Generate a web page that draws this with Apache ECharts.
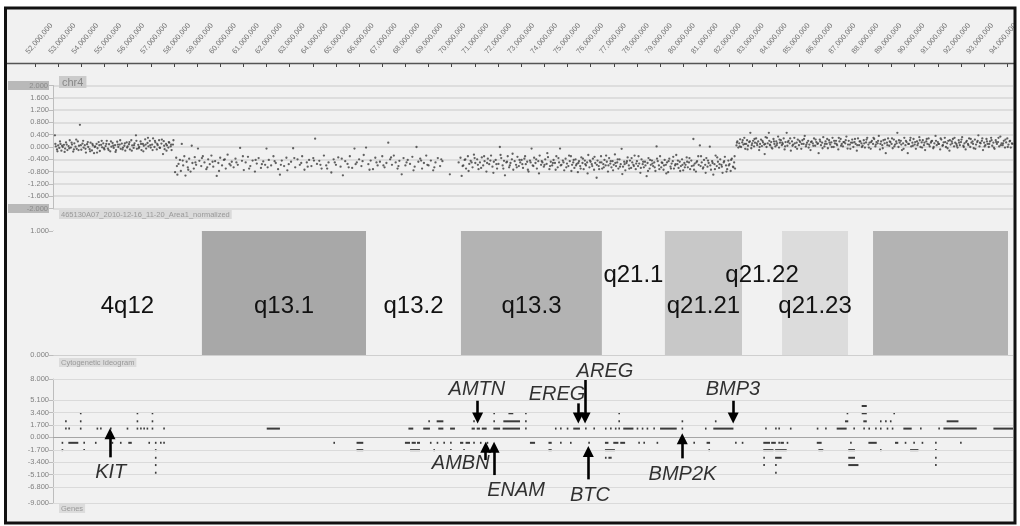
<!DOCTYPE html>
<html><head><meta charset="utf-8">
<script src="https://cdn.jsdelivr.net/npm/echarts@6/dist/echarts.min.js"></script>
<style>html,body{margin:0;padding:0;background:#fff}#c{width:1020px;height:526px}</style>
</head><body><div id="c"></div>
<script>
// ---------- DATA (positions in Mb on chr4) ----------
const rulerMinMb = 52, rulerMaxMb = 94;
const viewMinMb = 52.7775, viewMaxMb = 94.2462;

// normalized log-ratio points [Mb, value]
const cnvSeg1 = [[52.86,0.38],[52.9,0.02],[52.95,-0.08],[53.0,0.05],[53.05,-0.03],[53.1,0.1],[53.14,-0.12],[53.2,0.0],[53.25,0.07],[53.3,-0.05],[53.34,0.15],[53.4,-0.1],[53.45,0.03],[53.5,0.22],[53.55,-0.02],[53.6,0.08],[53.65,-0.15],[53.7,0.12],[53.75,0.01],[53.8,-0.06],[53.85,0.18],[53.94,0.72],[53.9,0.04],[54.0,-0.09],[54.05,0.11],[54.1,-0.02],[54.15,0.06],[54.2,-0.18],[54.25,0.09],[54.3,0.0],[54.36,-0.07],[54.4,0.14],[54.46,-0.11],[54.5,0.05],[54.55,-0.2],[54.6,0.02],[54.66,0.1],[54.7,-0.04],[54.75,0.16],[54.8,-0.13],[54.86,0.07],[54.9,-0.01],[54.95,0.12],[55.0,-0.08],[55.05,0.03],[55.1,0.2],[55.15,-0.05],[55.2,0.09],[55.25,-0.14],[55.3,0.01],[55.35,0.13],[55.4,-0.03],[55.46,0.06],[55.5,-0.1],[55.55,0.17],[55.6,0.0],[55.66,0.08],[55.7,-0.06],[55.75,0.11],[55.8,-0.02],[55.86,0.04],[55.9,-0.12],[55.96,0.15],[56.0,0.02],[56.06,0.09],[56.1,-0.08],[56.16,0.22],[56.2,0.05],[56.26,-0.03],[56.3,0.12],[56.36,0.38],[56.4,-0.06],[56.46,0.07],[56.5,0.0],[56.56,0.18],[56.6,-0.1],[56.66,0.1],[56.7,0.04],[56.76,0.25],[56.8,-0.05],[56.86,0.13],[56.9,0.02],[56.96,0.2],[57.0,-0.02],[57.06,0.08],[57.1,0.28],[57.16,0.0],[57.2,0.15],[57.26,-0.08],[57.3,0.06],[57.36,0.22],[57.4,-0.03],[57.46,0.11],[57.53,-0.23],[57.56,0.19],[57.6,-0.07],[57.66,0.1],[57.7,0.05],[57.76,-0.02],[57.8,0.14],[57.86,0.02],[57.9,-0.1],[57.96,0.08]];
const cnvSeg1b = [[52.88,0.1],[52.97,-0.14],[53.08,0.18],[53.17,0.04],[53.28,-0.16],[53.37,0.08],[53.48,-0.04],[53.58,0.14],[53.68,-0.08],[53.78,0.24],[53.88,-0.1],[53.98,0.06],[54.08,0.2],[54.18,-0.06],[54.28,0.16],[54.38,-0.14],[54.48,0.1],[54.58,0.0],[54.68,-0.18],[54.78,0.06],[54.88,0.2],[54.98,-0.04],[55.08,0.1],[55.18,-0.1],[55.28,0.18],[55.38,0.04],[55.48,-0.16],[55.58,0.08],[55.68,0.22],[55.78,-0.08],[55.88,0.12],[55.98,-0.02],[56.08,0.16],[56.18,-0.12],[56.28,0.06],[56.38,0.2],[56.48,-0.04],[56.58,0.1],[56.68,-0.14],[56.78,0.08],[56.88,0.3],[56.98,0.06],[57.08,-0.1],[57.18,0.2],[57.28,0.1],[57.38,-0.02],[57.48,0.24],[57.58,0.04],[57.68,-0.12],[57.78,0.16],[57.88,0.08],[57.98,0.22]];
const cnvSeg2a = [[58.05,-0.82],[58.1,-0.35],[58.15,-0.9],[58.2,-0.55],[58.26,-0.42],[58.3,-0.78],[58.34,0.1],[58.4,-0.6],[58.45,-0.3],[58.5,-0.93],[58.55,-0.48],[58.6,-0.66],[58.66,-0.38],[58.72,-0.8],[58.77,0.04],[58.8,-0.52],[58.86,-0.7],[58.9,-0.33],[58.96,-0.58],[59.04,-0.05],[59.1,-0.45],[59.18,-0.62],[59.25,-0.3],[59.32,-0.5],[59.4,-0.72],[59.48,-0.4],[59.55,-0.56],[59.62,-0.28],[59.7,-0.64],[59.78,-0.46],[59.85,-0.94],[59.92,-0.52],[60.0,-0.35],[60.08,-0.6],[60.16,-0.42],[60.24,-0.7],[60.32,-0.25],[60.4,-0.55],[60.5,-0.48],[60.58,-0.66],[60.66,-0.38],[60.76,-0.58],[60.86,-0.03],[60.94,-0.45],[61.02,-0.75],[61.1,-0.5],[61.2,-0.32],[61.3,-0.62],[61.4,-0.44],[61.5,-0.8],[61.58,-0.54],[61.66,-0.36],[61.76,-0.68],[61.86,-0.47],[61.94,-0.58],[62.0,-0.05],[62.1,-0.42],[62.2,-0.6],[62.3,-0.3],[62.4,-0.52],[62.5,-0.72],[62.58,-0.9],[62.66,-0.44],[62.76,-0.62],[62.86,-0.35],[62.96,-0.56],[63.06,-0.48],[63.15,-0.04],[63.24,-0.66],[63.34,-0.4],[63.44,-0.58],[63.54,-0.3],[63.64,-0.74],[63.74,-0.5],[63.84,-0.42],[63.94,-0.62],[64.02,-0.36],[64.1,0.27],[64.18,-0.55],[64.28,-0.45],[64.38,-0.7],[64.48,-0.28],[64.58,-0.6],[64.68,-0.5],[64.8,-0.83],[64.9,-0.4],[65.0,-0.58],[65.1,-0.34],[65.2,-0.64],[65.3,-0.92],[65.4,-0.46],[65.5,-0.55],[65.6,-0.3],[65.7,-0.68],[65.8,-0.05],[65.9,-0.5],[66.0,-0.4],[66.1,-0.62],[66.2,-0.26],[66.3,-0.02],[66.4,-0.56],[66.5,-0.44],[66.6,-0.72],[66.7,-0.35],[66.8,-0.6],[66.9,-0.48],[67.0,-0.3],[67.1,-0.66],[67.18,-0.52],[67.26,0.14],[67.34,-0.4],[67.42,-0.58],[67.5,-0.28],[67.58,-0.5],[67.66,-0.7],[67.74,-0.45],[67.84,-0.89],[67.92,-0.36],[68.0,-0.6],[68.1,-0.42],[68.2,-0.55],[68.3,-0.32],[68.4,-0.64],[68.48,0.0],[68.56,-0.48],[68.64,-0.38],[68.72,-0.7],[68.8,-0.52],[68.9,-0.28],[69.0,-0.6],[69.1,-0.44],[69.2,-0.76],[69.3,-0.5],[69.4,-0.36],[69.5,-0.62],[69.6,-0.46],[69.92,-0.89],[70.3,-0.5]];
const cnvSeg2aExtra = [[58.13,-0.62],[58.38,-0.44],[58.62,-0.74],[58.93,-0.5],[59.21,-0.36],[59.44,-0.66],[59.67,-0.48],[59.95,-0.78],[60.2,-0.4],[60.45,-0.6],[60.7,-0.5],[60.98,-0.3],[61.25,-0.7],[61.53,-0.42],[61.8,-0.56],[62.05,-0.66],[62.35,-0.46],[62.62,-0.58],[62.9,-0.76],[63.2,-0.36],[63.5,-0.52],[63.78,-0.64],[64.05,-0.44],[64.33,-0.58],[64.62,-0.7],[64.95,-0.5],[65.25,-0.38],[65.55,-0.66],[65.85,-0.56],[66.15,-0.46],[66.45,-0.74],[66.75,-0.5],[67.05,-0.6],[67.38,-0.34],[67.7,-0.62],[68.05,-0.5],[68.35,-0.76],[68.68,-0.44],[68.95,-0.58],[69.25,-0.66],[69.55,-0.4]];
const cnvSeg2b = [[70.38,-0.35],[70.43,-0.94],[70.5,-0.6],[70.56,-0.42],[70.62,-0.7],[70.7,-0.3],[70.76,-0.55],[70.82,-0.45],[70.9,-0.66],[70.96,-0.25],[71.02,-0.52],[71.1,-0.4],[71.16,-0.72],[71.22,-0.5],[71.3,-0.34],[71.36,-0.6],[71.42,-0.46],[71.5,-0.8],[71.56,-0.38],[71.62,-0.56],[71.7,-0.28],[71.76,-0.64],[71.82,-0.48],[71.9,-0.42],[71.96,-0.7],[72.02,-0.55],[72.08,0.0],[72.14,-0.36],[72.2,-0.6],[72.26,-0.45],[72.3,-0.92],[72.36,-0.5],[72.42,-0.3],[72.48,-0.66],[72.54,-0.52],[72.6,-0.4],[72.66,-0.74],[72.72,-0.46],[72.78,-0.58],[72.84,-0.32],[72.9,-0.62],[72.96,-0.5],[73.02,-0.42],[73.08,-0.68],[73.14,-0.38],[73.2,-0.56],[73.26,-0.48],[73.32,-0.8],[73.38,-0.44],[73.45,-0.05],[73.5,-0.6],[73.56,-0.35],[73.62,-0.52],[73.68,-0.7],[73.74,-0.46],[73.8,-0.28],[73.86,-0.58],[73.92,-0.5],[73.98,-0.64],[74.04,-0.4],[74.1,-0.55],[74.16,-0.33],[74.22,-0.72],[74.28,-0.48],[74.34,-0.6],[74.4,-0.42],[74.46,-0.52],[74.52,-0.3],[74.58,-0.66],[74.64,-0.5],[74.68,-0.05],[74.74,-0.58],[74.8,-0.44],[74.86,-0.76],[74.92,-0.38],[74.98,-0.54],[75.04,-0.62],[75.1,-0.46],[75.15,-0.3],[75.2,-0.58],[75.25,-0.5],[75.3,-0.68],[75.35,-0.4],[75.4,-0.55],[75.45,-0.82],[75.5,-0.46],[75.55,-0.62],[75.6,-0.34],[75.65,-0.52],[75.7,-0.72],[75.75,-0.44],[75.8,-0.6],[75.85,-0.5],[75.9,-0.26],[75.95,-0.66],[76.0,-0.48],[76.05,-0.56],[76.1,-0.38],[76.15,-0.74],[76.2,-0.52],[76.26,-1.0],[76.3,-0.44],[76.35,-0.62],[76.4,-0.5],[76.45,-0.3],[76.5,-0.7],[76.55,-0.56],[76.6,-0.42],[76.65,-0.6],[76.7,-0.48],[76.75,-0.8],[76.8,-0.36],[76.85,-0.54],[76.9,-0.66],[76.95,-0.46],[77.0,-0.58],[77.05,-0.24],[77.1,-0.62],[77.15,-0.5],[77.2,-0.7],[77.25,-0.4],[77.3,-0.56],[77.34,-0.06],[77.4,-0.64],[77.45,-0.48],[77.5,-0.76],[77.55,-0.52],[77.6,-0.34],[77.65,-0.6],[77.7,-0.44],[77.75,-0.68],[77.8,-0.5],[77.85,-0.58],[77.9,-0.28],[77.95,-0.72],[78.0,-0.46],[78.05,-0.62],[78.1,-0.54],[78.15,-0.84],[78.2,-0.4],[78.25,-0.56],[78.3,-0.66],[78.35,-0.48],[78.42,-0.95],[78.46,-0.52],[78.5,-0.36],[78.55,-0.7],[78.6,-0.58],[78.65,-0.44],[78.7,-0.62],[78.75,-0.5],[78.8,-0.78],[78.85,0.02],[78.9,-0.46],[78.95,-0.6],[79.0,-0.3],[79.05,-0.66],[79.1,-0.52],[79.15,-0.74],[79.2,-0.42],[79.25,-0.58],[79.3,-0.5],[79.35,-0.82],[79.4,-0.38],[79.45,-0.64],[79.5,-0.54],[79.55,-0.46],[79.6,-0.7],[79.65,-0.6],[79.7,-0.26],[79.75,-0.56],[79.8,-0.68],[79.85,-0.48],[79.9,-0.62],[79.95,-0.4],[80.0,-0.76],[80.05,-0.52],[80.1,-0.58],[80.15,-0.34],[80.2,-0.66],[80.25,-0.5],[80.3,-0.72],[80.35,-0.44],[80.44,0.26],[80.45,-0.6],[80.5,-0.54],[80.55,-0.8],[80.6,-0.46],[80.65,-0.3],[80.72,0.05],[80.75,-0.62],[80.8,-0.5],[80.85,-0.7],[80.9,-0.42],[80.95,-0.58],[81.0,-0.36],[81.05,-0.64],[81.1,-0.52],[81.15,0.01],[81.2,-0.74],[81.25,-0.46],[81.3,-0.9],[81.35,-0.56],[81.4,-0.28],[81.45,-0.62],[81.5,-0.48],[81.55,-0.68],[81.6,-0.4],[81.65,-0.58],[81.7,-0.84],[81.75,-0.5],[81.8,-0.32],[81.85,-0.6],[81.9,-0.72],[81.95,-0.44],[82.0,-0.56],[82.05,-0.78],[82.1,-0.38],[82.15,-0.64],[82.2,-0.5],[82.24,-0.7]];
const cnvSeg2bExtra = [[70.47,-0.62],[70.59,-0.4],[70.73,-0.78],[70.86,-0.5],[70.99,-0.36],[71.13,-0.58],[71.27,-0.68],[71.4,-0.3],[71.53,-0.52],[71.67,-0.44],[71.8,-0.84],[71.93,-0.56],[72.11,-0.26],[72.23,-0.7],[72.39,-0.48],[72.51,-0.6],[72.63,-0.22],[72.81,-0.66],[72.93,-0.42],[73.05,-0.56],[73.17,-0.3],[73.29,-0.74],[73.41,-0.5],[73.53,-0.62],[73.65,-0.4],[73.77,-0.86],[73.89,-0.46],[74.01,-0.58],[74.13,-0.2],[74.25,-0.62],[74.37,-0.52],[74.49,-0.74],[74.61,-0.36],[74.71,-0.6],[74.83,-0.5],[74.95,-0.66],[75.07,-0.28],[75.17,-0.78],[75.27,-0.42],[75.37,-0.6],[75.47,-0.52],[75.57,-0.7],[75.67,-0.38],[75.77,-0.56],[75.87,-0.86],[75.97,-0.44],[76.07,-0.62],[76.17,-0.32],[76.27,-0.58],[76.37,-0.72],[76.47,-0.5],[76.57,-0.66],[76.67,-0.28],[76.77,-0.6],[76.87,-0.46],[76.97,-0.76],[77.07,-0.52],[77.17,-0.4],[77.27,-0.64],[77.37,-0.88],[77.47,-0.56],[77.57,-0.46],[77.67,-0.7],[77.77,-0.36],[77.87,-0.62],[77.97,-0.54],[78.07,-0.3],[78.17,-0.68],[78.27,-0.48],[78.37,-0.6],[78.48,-0.78],[78.57,-0.42],[78.67,-0.54],[78.77,-0.66],[78.87,-0.38],[78.97,-0.72],[79.07,-0.5],[79.17,-0.6],[79.27,-0.86],[79.37,-0.46],[79.47,-0.7],[79.57,-0.32],[79.67,-0.56],[79.77,-0.44],[79.87,-0.78],[79.97,-0.58],[80.07,-0.66],[80.17,-0.48],[80.27,-0.36],[80.37,-0.62],[80.47,-0.74],[80.57,-0.5],[80.67,-0.58],[80.77,-0.3],[80.87,-0.66],[80.97,-0.84],[81.07,-0.44],[81.17,-0.6],[81.27,-0.52],[81.37,-0.72],[81.47,-0.34],[81.57,-0.56],[81.67,-0.64],[81.77,-0.46],[81.87,-0.8],[81.97,-0.6],[82.07,-0.42],[82.17,-0.66],[82.22,-0.3]];
const cnvSeg3 = [[82.3,0.05],[82.34,0.18],[82.38,-0.02],[82.42,0.12],[82.46,0.25],[82.5,0.0],[82.55,0.15],[82.6,0.08],[82.64,0.3],[82.68,-0.06],[82.72,0.1],[82.76,0.22],[82.8,0.04],[82.85,0.16],[82.9,0.46],[82.94,-0.04],[82.98,0.12],[83.02,0.2],[83.06,0.02],[83.1,0.14],[83.15,0.28],[83.2,0.06],[83.24,0.18],[83.28,-0.1],[83.32,0.1],[83.36,0.24],[83.4,0.03],[83.45,0.15],[83.5,0.08],[83.52,-0.23],[83.56,0.32],[83.6,0.0],[83.65,0.12],[83.7,0.46],[83.72,0.2],[83.76,0.05],[83.8,0.16],[83.85,-0.05],[83.9,0.26],[83.94,0.1],[83.98,0.02],[84.02,0.18],[84.06,0.12],[84.1,0.34],[84.14,-0.02],[84.18,0.14],[84.22,0.22],[84.26,0.06],[84.3,0.1],[84.34,0.28],[84.38,-0.08],[84.42,0.16],[84.47,0.46],[84.5,0.04],[84.55,0.2],[84.6,0.12],[84.65,-0.12],[84.7,0.18],[84.75,0.08],[84.8,0.3],[84.85,0.0],[84.9,0.14],[84.95,0.24],[85.0,0.06],[85.05,0.16],[85.1,-0.06],[85.15,0.22],[85.2,0.1],[85.25,0.36],[85.3,0.02],[85.35,0.14],[85.4,0.2],[85.45,0.08],[85.5,-0.1],[85.55,0.18],[85.6,0.12],[85.65,0.28],[85.7,0.04],[85.75,0.16],[85.8,0.1],[85.85,-0.2],[85.9,0.24],[85.95,0.06],[86.0,0.14],[86.05,0.32],[86.1,0.02],[86.15,0.18],[86.2,0.1],[86.25,-0.04],[86.3,0.22],[86.35,0.08],[86.4,0.15],[86.45,0.3],[86.5,0.0],[86.55,0.12],[86.6,0.2],[86.65,0.06],[86.7,-0.08],[86.75,0.18],[86.8,0.26],[86.85,0.1],[86.9,0.02],[86.95,0.16],[87.0,0.12],[87.05,0.34],[87.1,-0.05],[87.15,0.2],[87.2,0.08],[87.25,0.14],[87.3,0.24],[87.35,0.0],[87.4,0.16],[87.45,0.1],[87.5,-0.12],[87.55,0.28],[87.6,0.06],[87.65,0.18],[87.7,0.12],[87.75,0.04],[87.8,0.22],[87.85,-0.02],[87.9,0.15],[87.95,0.3],[88.0,0.08],[88.05,0.14],[88.1,-0.06],[88.15,0.2],[88.2,0.1],[88.25,0.26],[88.3,0.02],[88.35,0.16],[88.4,0.12],[88.45,0.36],[88.5,-0.08],[88.55,0.18],[88.6,0.06],[88.65,0.22],[88.7,0.12],[88.75,-0.2],[88.8,0.14],[88.85,0.28],[88.9,0.04],[88.95,0.16],[89.0,0.1],[89.05,-0.04],[89.1,0.24],[89.15,0.08],[89.2,0.18],[89.25,0.46],[89.3,0.0],[89.35,0.14],[89.4,0.2],[89.45,-0.1],[89.5,0.12],[89.55,0.3],[89.6,0.06],[89.65,0.16],[89.7,-0.2],[89.75,0.1],[89.8,0.22],[89.85,0.02],[89.9,0.14],[89.95,0.26],[90.0,0.08],[90.05,-0.06],[90.1,0.18],[90.15,0.12],[90.2,0.32],[90.25,0.0],[90.3,0.15],[90.35,0.22],[90.4,0.06],[90.45,-0.1],[90.5,0.18],[90.55,0.1],[90.6,0.28],[90.65,0.02],[90.7,0.14],[90.75,0.2],[90.8,-0.04],[90.85,0.12],[90.9,0.36],[90.95,0.06],[91.0,0.16],[91.05,0.1],[91.1,-0.08],[91.15,0.24],[91.2,0.04],[91.25,0.15],[91.3,0.3],[91.35,0.0],[91.4,0.12],[91.45,0.2],[91.5,-0.12],[91.55,0.08],[91.6,0.18],[91.65,0.26],[91.7,0.02],[91.75,0.14],[91.8,0.1],[91.85,-0.02],[91.9,0.22],[91.95,0.06],[92.0,0.16],[92.05,0.32],[92.1,0.04],[92.15,0.12],[92.2,-0.08],[92.25,0.2],[92.3,0.1],[92.35,0.28],[92.4,0.0],[92.45,0.14],[92.5,0.18],[92.55,-0.04],[92.6,0.24],[92.65,0.08],[92.7,0.16],[92.75,0.38],[92.8,0.02],[92.85,0.12],[92.9,0.2],[92.95,-0.1],[93.0,0.14],[93.05,0.06],[93.1,0.26],[93.15,0.1],[93.2,0.0],[93.25,0.18],[93.3,0.3],[93.35,0.04],[93.4,0.14],[93.45,-0.06],[93.5,0.22],[93.55,0.1],[93.6,0.16],[93.65,0.02],[93.7,0.34],[93.75,0.12],[93.8,0.06],[93.85,0.2],[93.9,-0.02],[93.95,0.15],[94.0,0.28],[94.05,0.08],[94.1,0.18],[94.15,-0.02],[94.2,0.12]];
const cnvSeg3Extra = [[82.32,0.14],[82.44,0.02],[82.57,0.22],[82.66,0.1],[82.78,-0.08],[82.88,0.18],[82.96,0.06],[83.08,0.26],[83.18,0.12],[83.3,0.0],[83.42,0.2],[83.54,0.1],[83.62,0.3],[83.74,0.08],[83.82,-0.02],[83.92,0.18],[84.04,0.06],[84.16,0.24],[84.28,0.14],[84.4,0.02],[84.52,0.16],[84.62,0.28],[84.72,0.04],[84.82,0.12],[84.92,-0.06],[85.02,0.2],[85.12,0.1],[85.22,0.26],[85.32,0.08],[85.42,-0.02],[85.52,0.16],[85.62,0.04],[85.72,0.24],[85.82,0.12],[85.92,0.18],[86.02,-0.04],[86.12,0.1],[86.22,0.26],[86.32,0.14],[86.42,0.0],[86.52,0.2],[86.62,0.1],[86.72,0.3],[86.82,0.04],[86.92,0.16],[87.02,0.22],[87.12,0.08],[87.22,-0.06],[87.32,0.14],[87.42,0.26],[87.52,0.06],[87.62,0.18],[87.72,0.0],[87.82,0.12],[87.92,0.24],[88.02,-0.02],[88.12,0.16],[88.22,0.3],[88.32,0.08],[88.42,0.2],[88.52,0.1],[88.62,-0.04],[88.72,0.24],[88.82,0.06],[88.92,0.18],[89.02,0.28],[89.12,0.02],[89.22,0.12],[89.32,0.22],[89.42,0.08],[89.52,-0.06],[89.62,0.2],[89.72,0.1],[89.82,0.3],[89.92,0.04],[90.02,0.16],[90.12,0.06],[90.22,0.22],[90.32,-0.02],[90.42,0.14],[90.52,0.26],[90.62,0.08],[90.72,0.18],[90.82,0.0],[90.92,0.2],[91.02,0.1],[91.12,0.28],[91.22,0.06],[91.32,0.16],[91.42,-0.04],[91.52,0.22],[91.62,0.12],[91.72,0.3],[91.82,0.04],[91.92,0.14],[92.02,0.24],[92.12,0.0],[92.22,0.16],[92.32,0.06],[92.42,0.26],[92.52,0.1],[92.62,-0.06],[92.72,0.2],[92.82,0.14],[92.92,0.28],[93.02,0.02],[93.12,0.18],[93.22,0.1],[93.32,0.22],[93.42,-0.02],[93.52,0.16],[93.62,0.3],[93.72,0.06],[93.82,0.12],[93.92,0.24],[94.02,0.0],[94.12,0.2],[94.22,0.1]];

// cytogenetic bands
const bandStarts = [52.0, 59.21, 66.30, 70.40, 76.49, 79.21, 82.54, 84.27, 87.12, 88.20, 94.03];
const bandEnds   = [59.21, 66.30, 70.40, 76.49, 79.21, 82.54, 84.27, 87.12, 88.20, 94.03, 95.5];
const bandStains = ['gneg','gpos100','gneg','gpos75','gneg','gpos50','gneg','gpos25','gneg','gpos75','gneg'];
const bandNames  = ['4q12','q13.1','q13.2','q13.3','q21.1','q21.21','q21.22','q21.23','','',''];

// gene track: row value and genes in that row ([start,end] or single Mb)
const geneTicks = [8, 5.1, 3.4, 1.7, 0, -1.7, -3.4, -5.1, -6.8, -9];
const geneRowPos = [4.3, 3.3, 2.2, 1.2, -0.75, -1.75, -2.8, -3.8, -4.85];
const genesRowA = [[87.71,87.93]];
const genesRowB = [53.94,56.39,57.04,71.80,[72.45,72.66],73.17,77.20,87.06,[87.71,87.93],89.08];
const genesRowC = [53.30,53.94,56.39,57.04,68.99,[69.35,69.64],70.93,71.80,[72.23,72.95],73.17,77.20,79.93,81.37,[86.99,87.13],[87.78,87.93],88.50,88.72,88.93,[91.38,91.89]];
const genesRowD = [53.30,53.44,53.94,54.66,54.81,55.24,55.96,56.39,56.54,56.68,56.82,57.04,57.54,[62.01,62.58],[68.13,68.34],[68.77,69.06],[69.42,69.64],[69.93,70.14],[70.86,71.0],[71.08,71.22],[71.3,71.51],[71.80,72.09],[72.2,72.95],73.17,74.46,74.68,74.97,[75.25,75.54],75.76,76.12,76.62,76.84,77.05,77.20,[77.41,77.85],77.99,78.21,78.42,78.71,[79.00,79.72],79.93,80.94,[81.30,82.17],83.54,83.97,84.11,84.61,85.77,86.13,[86.63,87.06],87.35,87.78,88.00,88.29,88.50,88.79,89.01,[89.51,89.87],90.23,91.02,[91.24,92.68],[93.40,94.40]];
const genesRowE = [53.15,[53.44,53.87],54.09,54.59,55.31,55.67,[56.03,56.18],56.90,57.18,57.40,57.54,64.89,[65.89,66.18],[67.98,68.2],[68.27,68.45],[68.5,68.63],69.06,69.35,69.64,69.93,[70.36,70.5],[70.6,70.79],70.93,71.22,71.51,[73.38,73.60],[74.18,74.32],74.68,75.11,75.90,[76.62,76.77],[76.98,77.2],[77.28,77.49],78.06,78.28,78.85,80.44,[81.01,81.16],82.24,82.53,[83.46,83.75],[83.8,84.0],84.11,[84.2,84.35],84.47,[85.77,85.98],87.21,[88.00,88.36],[89.15,89.29],89.57,89.94,90.30,90.88,91.96];
const genesRowF = [53.15,54.09,57.18,[65.89,66.18],[68.20,68.63],69.21,69.93,70.50,[74.18,74.32],[76.62,77.05],81.09,[83.46,83.9],[83.97,84.47],[85.84,86.05],[87.13,87.42],88.50,[89.80,90.16],90.88];
const genesRowG = [57.18,76.62,76.77,76.84,83.46,[83.97,84.25],[87.13,87.42],90.88];
const genesRowH = [57.18,83.46,83.97,[87.13,87.57],90.88];
const genesRowI = [57.18,83.97];

// annotated genes
const annoNames    = ['KIT','AMTN','AMBN','ENAM','EREG','AREG','BTC','BMP2K','BMP3'];
const annoGeneMb   = [55.24, 71.12, 71.47, 71.83, 75.47, 75.76, 75.90, 79.96, 82.16];
const annoArrowFrom= [-2.74, 5.02, -3.11, -5.17, 4.66, 7.86, -5.76, -2.88, 5.02];
const annoArrowTip = [1.23, 1.92, -0.6, -0.6, 1.92, 1.92, -1.19, 0.55, 1.92];
const annoTextMb   = [55.27, 71.09, 70.39, 72.78, 74.55, 76.62, 75.97, 79.97, 82.15];
const annoTextVal  = [-4.83, 6.56, -3.6, -7.32, 5.94, 9.0, -7.92, -5.03, 6.56];

// ---------- STYLE ----------
const FONT = '"Liberation Sans", Arial, Helvetica, sans-serif';
const stainColors = {gneg:'#f1f1f1', gpos25:'#dcdcdc', gpos50:'#c8c8c8', gpos75:'#b3b3b3', gpos100:'#a8a8a8'};
const axisGrey = '#bdbdbd', labelGrey = '#808080';

const geneRows = [genesRowA,genesRowB,genesRowC,genesRowD,genesRowE,genesRowF,genesRowG,genesRowH,genesRowI];
const geneData = [];
geneRows.forEach((row, r) => row.forEach(g => {
  const s = Array.isArray(g) ? g[0] : g, e = Array.isArray(g) ? g[1] : g;
  geneData.push([s, e, geneRowPos[r]]);
}));

const measureCtx = document.createElement('canvas').getContext('2d');
measureCtx.font = '24px ' + FONT;
let raisedCache = null;
function getRaised(api, cs) {
  if (raisedCache) return raisedCache;
  const res = []; let lowerLeft = Infinity;
  for (let i = bandNames.length - 1; i >= 0; i--) {
    res[i] = false;
    if (!bandNames[i]) continue;
    const a = Math.max(api.coord([bandStarts[i], 0])[0], cs.x);
    const b = Math.min(api.coord([bandEnds[i], 0])[0], cs.x + cs.width);
    const cx = (a + b) / 2, w = measureCtx.measureText(bandNames[i]).width;
    if (cx + w / 2 + 6 > lowerLeft) res[i] = true; else lowerLeft = cx - w / 2;
  }
  raisedCache = res; return res;
}
function renderBand(params, api) {
  const i = api.value(2);
  const cs = params.coordSys;
  const p0 = api.coord([api.value(0), 1]), p1 = api.coord([api.value(1), 0]);
  const r = echarts.graphic.clipRectByRect(
    {x: p0[0], y: p0[1], width: p1[0] - p0[0], height: p1[1] - p0[1]},
    {x: cs.x, y: cs.y, width: cs.width, height: cs.height});
  if (!r) return;
  const children = [{type: 'rect', z2: 1, shape: r, style: {fill: stainColors[bandStains[i]]}}];
  if (bandNames[i]) {
    const raised = getRaised(api, cs)[i];
    const ty = api.coord([api.value(0), raised ? 0.64 : 0.39])[1];
    children.push({type: 'text', z2: 50, x: r.x + r.width / 2, y: ty,
      style: {text: bandNames[i], fill: '#111', font: '24px ' + FONT, align: 'center', verticalAlign: 'middle'}});
  }
  return {type: 'group', children};
}
function renderGene(params, api) {
  const a = api.coord([api.value(0), api.value(2)]);
  const b = api.coord([api.value(1), api.value(2)]);
  return {type: 'rect', shape: {x: a[0], y: a[1] - 1, width: Math.max(b[0] - a[0], 1.6), height: 2},
    style: {fill: '#3a3a3a'}};
}

const fmtTick = v => (Math.round(v * 1e6)).toLocaleString('en-US');
const yLab = v => {
  const t = v.toFixed(3);
  return Math.abs(Math.abs(v) - 2) < 1e-9 ? '{hl|' + t + '}' : t;
};
const yAxisCommon = {
  axisLine: {show: true, lineStyle: {color: axisGrey, width: 1}},
  axisTick: {show: true, length: 4, lineStyle: {color: axisGrey}},
  axisLabel: {fontSize: 7.5, color: labelGrey, margin: 4, fontFamily: FONT}
};

const arrowLines = annoNames.map((n, i) => {
  const dir = annoArrowTip[i] > annoArrowFrom[i] ? 1 : -1;
  return [{coord: [annoGeneMb[i], annoArrowFrom[i]]}, {coord: [annoGeneMb[i], annoArrowTip[i] - dir * 0.75]}];
});

const chart = echarts.init(document.getElementById('c'), null, {renderer: 'canvas'});
chart.setOption({
  animation: false,
  backgroundColor: '#ffffff',
  grid: [
    {left: 35, width: 972.3, top: 63, height: 1},
    {left: 27.2, width: 972.3, top: 63, height: 1},
    {left: 53, width: 960, top: 85.5, height: 123},
    {left: 53, width: 960, top: 231, height: 124},
    {left: 53, width: 960, top: 379, height: 124}
  ],
  xAxis: [
    {gridIndex: 0, type: 'value', position: 'top', min: rulerMinMb, max: rulerMaxMb, interval: 1,
      axisLine: {show: false}, axisTick: {show: true, inside: true, length: 3, lineStyle: {color: '#444', width: 1}},
      axisLabel: {show: false}, splitLine: {show: false}},
    {gridIndex: 1, type: 'value', position: 'top', min: rulerMinMb, max: rulerMaxMb, interval: 1,
      axisLine: {show: false}, axisTick: {show: false},
      axisLabel: {show: true, rotate: 50, fontSize: 7.5, color: '#777', margin: 10, fontFamily: FONT, formatter: fmtTick},
      splitLine: {show: false}},
    {gridIndex: 2, type: 'value', min: viewMinMb, max: viewMaxMb, show: false},
    {gridIndex: 3, type: 'value', min: viewMinMb, max: viewMaxMb, show: false},
    {gridIndex: 4, type: 'value', min: viewMinMb, max: viewMaxMb, show: false}
  ],
  yAxis: [
    {gridIndex: 0, show: false, min: 0, max: 1},
    {gridIndex: 1, show: false, min: 0, max: 1},
    Object.assign({}, yAxisCommon, {gridIndex: 2, type: 'value', min: -2, max: 2, interval: 0.4,
      axisLabel: Object.assign({}, yAxisCommon.axisLabel, {formatter: yLab,
        rich: {hl: {backgroundColor: '#b9b9b9', color: '#8a8a8a', width: 40, align: 'right', fontSize: 7.5, padding: [1, 1, 0, 0], fontFamily: FONT}}}),
      splitLine: {show: true, lineStyle: {color: '#d6d6d6', width: 1.5}}}),
    Object.assign({}, yAxisCommon, {gridIndex: 3, type: 'value', min: 0, max: 1, interval: 1,
      axisLabel: Object.assign({}, yAxisCommon.axisLabel, {formatter: v => v.toFixed(3)}),
      splitLine: {show: true, lineStyle: {color: '#cfcfcf', width: 1}}}),
    Object.assign({}, yAxisCommon, {gridIndex: 4, type: 'value', min: -9, max: 8,
      axisTick: Object.assign({}, yAxisCommon.axisTick, {customValues: geneTicks}),
      axisLabel: Object.assign({}, yAxisCommon.axisLabel, {customValues: geneTicks, formatter: v => v.toFixed(3)}),
      splitLine: {show: false}})
  ],
  series: [
    {type: 'scatter', xAxisIndex: 2, yAxisIndex: 2, symbol: 'circle', symbolSize: 2.3, silent: true,
      itemStyle: {color: '#3c3c3c', opacity: 0.8},
      data: [].concat(cnvSeg1, cnvSeg1b, cnvSeg2a, cnvSeg2aExtra, cnvSeg2b, cnvSeg2bExtra, cnvSeg3, cnvSeg3Extra)},
    {type: 'custom', xAxisIndex: 3, yAxisIndex: 3, silent: true, clip: true, renderItem: renderBand,
      data: bandStarts.map((s, i) => [s, bandEnds[i], i])},
    {type: 'custom', xAxisIndex: 4, yAxisIndex: 4, silent: true, clip: true, renderItem: renderGene, z: 3,
      data: geneData,
      markLine: {silent: true, symbol: ['none', 'none'], label: {show: false}, animation: false,
        lineStyle: {color: '#dadada', width: 1, type: 'solid'},
        data: geneTicks.map(v => v === 0 ? {yAxis: v, lineStyle: {color: '#a5a5a5', width: 1, type: 'solid'}} : {yAxis: v})}},
    {type: 'scatter', xAxisIndex: 4, yAxisIndex: 4, silent: true, clip: false, symbolSize: 1, z: 5,
      itemStyle: {color: 'rgba(0,0,0,0)'},
      label: {show: true, position: 'inside', formatter: p => p.name, color: '#000', fontSize: 20,
        fontStyle: 'italic', fontFamily: FONT},
      data: annoNames.map((n, i) => ({name: n, value: [annoTextMb[i], annoTextVal[i]]})),
      markLine: {silent: true, symbol: ['none', 'triangle'], symbolSize: 11, label: {show: false}, animation: false,
        lineStyle: {color: '#000', width: 2.6, type: 'solid', opacity: 1},
        itemStyle: {color: '#000'},
        data: arrowLines}}
  ],
  graphic: [
    {type: 'rect', z: -10, silent: true, shape: {x: 5.5, y: 8, width: 1009.5, height: 515}, style: {fill: '#f1f1f1'}},
    {type: 'line', z: 5, silent: true, shape: {x1: 6, y1: 63.5, x2: 1014, y2: 63.5}, style: {stroke: '#555', lineWidth: 1.4}},
    {type: 'text', z: 5, silent: true, x: 59, y: 76, style: {text: 'chr4', font: '11px ' + FONT, fill: '#888', backgroundColor: '#cbcbcb', padding: [1, 3, 0, 3]}},
    {type: 'text', z: 5, silent: true, x: 59, y: 210, style: {text: '465130A07_2010-12-16_11-20_Area1_normalized', font: '7.5px ' + FONT, fill: '#999', backgroundColor: '#dadada', padding: [1, 2, 0, 2]}},
    {type: 'text', z: 5, silent: true, x: 59, y: 358, style: {text: 'Cytogenetic Ideogram', font: '7.5px ' + FONT, fill: '#999', backgroundColor: '#dcdcdc', padding: [1, 2, 0, 2]}},
    {type: 'text', z: 5, silent: true, x: 59, y: 504, style: {text: 'Genes', font: '7.5px ' + FONT, fill: '#999', backgroundColor: '#dcdcdc', padding: [1, 2, 0, 2]}},
    {type: 'rect', z: 99, silent: true, shape: {x: 1016.5, y: 0, width: 10, height: 526}, style: {fill: '#fff'}},
    {type: 'rect', z: 100, silent: true, shape: {x: 5.5, y: 8, width: 1009.5, height: 515}, style: {fill: 'none', stroke: '#111', lineWidth: 3}}
  ]
});
</script></body></html>
